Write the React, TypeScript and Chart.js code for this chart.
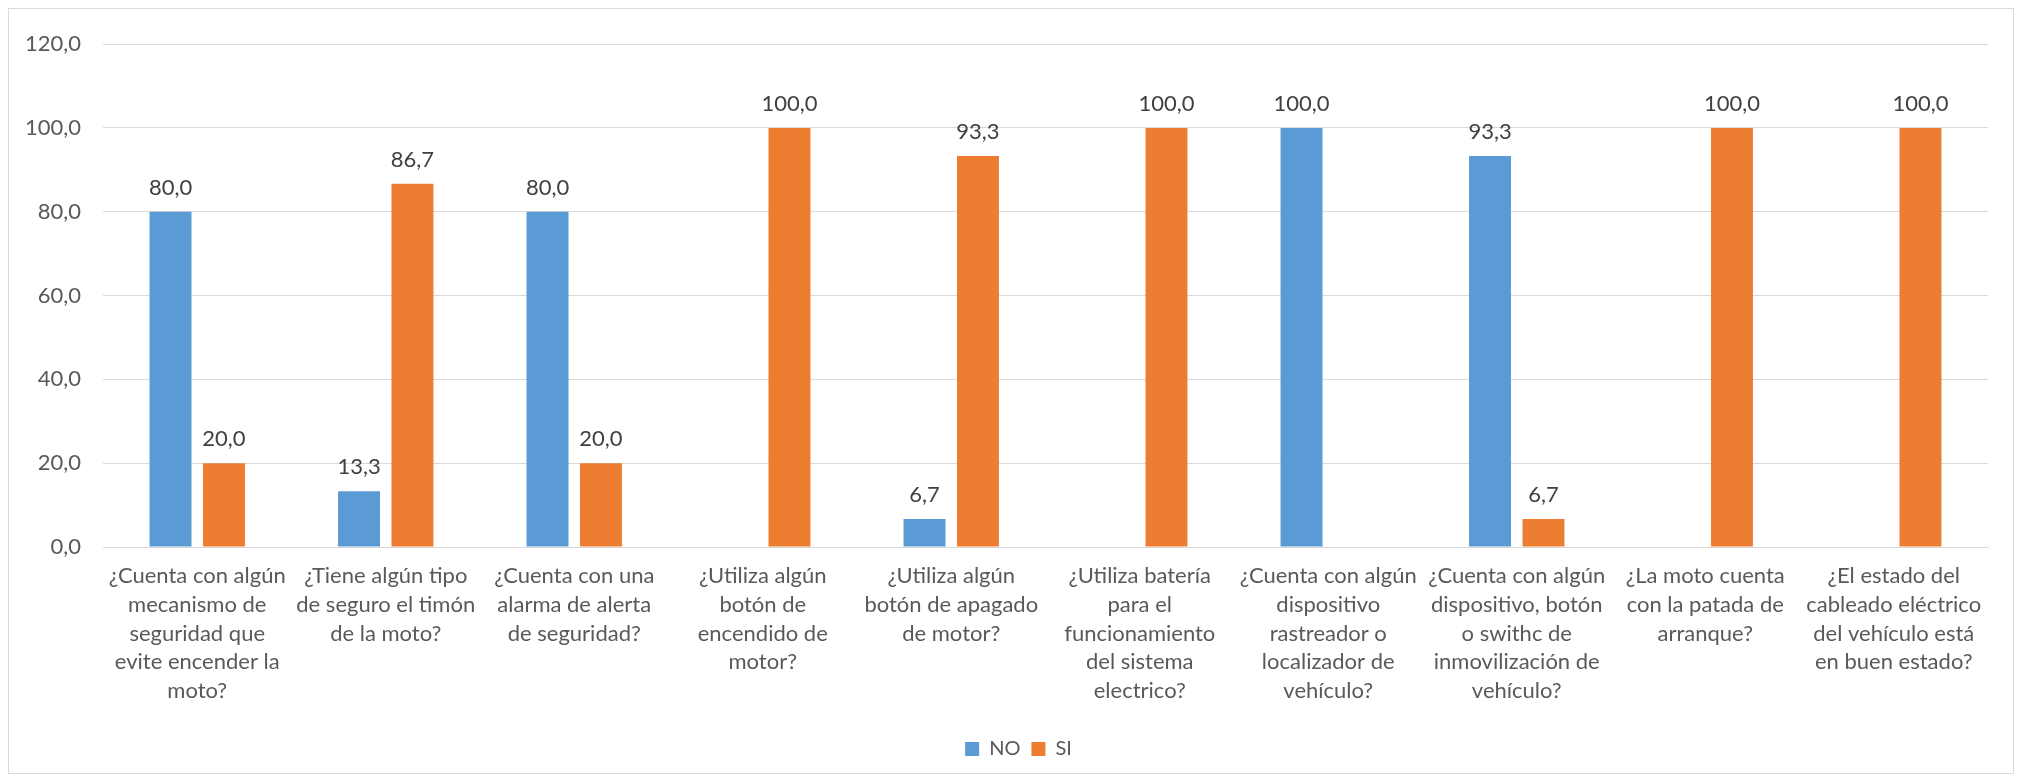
import React, { useEffect, useRef } from "react";
import { Chart, registerables } from "chart.js";

Chart.register(...registerables);

const categories: string[][] = [
  ["¿Cuenta con algún", "mecanismo de", "seguridad que", "evite encender la", "moto?"],
  ["¿Tiene algún tipo", "de seguro el timón", "de la moto?"],
  ["¿Cuenta con una", "alarma de alerta", "de seguridad?"],
  ["¿Utiliza algún", "botón de", "encendido de", "motor?"],
  ["¿Utiliza algún", "botón de apagado", "de motor?"],
  ["¿Utiliza batería", "para el", "funcionamiento", "del sistema", "electrico?"],
  ["¿Cuenta con algún", "dispositivo", "rastreador o", "localizador de", "vehículo?"],
  ["¿Cuenta con algún", "dispositivo, botón", "o swithc de", "inmovilización de", "vehículo?"],
  ["¿La moto cuenta", "con la patada de", "arranque?"],
  ["¿El estado del", "cableado eléctrico", "del vehículo está", "en buen estado?"],
];

const noValues: (number | null)[] = [80.0, 13.3, 80.0, null, 6.7, null, 100.0, 93.3, null, null];
const siValues: (number | null)[] = [20.0, 86.7, 20.0, 100.0, 93.3, 100.0, null, 6.7, 100.0, 100.0];

const yTicks = { min: 0, max: 120, step: 20 };

const FONT = "Lato, 'Liberation Sans', sans-serif";
const fmt = (v: number) => v.toFixed(1).replace(".", ",");

const dataLabels = {
  id: "dataLabels",
  afterDatasetsDraw(chart: any) {
    const ctx = chart.ctx;
    ctx.save();
    ctx.font = `22px ${FONT}`;
    ctx.fillStyle = "#404040";
    ctx.textAlign = "center";
    ctx.textBaseline = "alphabetic";
    chart.data.datasets.forEach((ds: any, i: number) => {
      const meta = chart.getDatasetMeta(i);
      meta.data.forEach((el: any, j: number) => {
        const v = ds.data[j];
        if (v === null || v === undefined) return;
        ctx.fillText(fmt(v), el.x, el.y - 17);
      });
    });
    ctx.restore();
  },
};

const legendShift = {
  id: "legendShift",
  afterLayout(chart: any) {
    const lg = chart.legend;
    if (lg) {
      lg.left += 20;
      lg.right += 20;
    }
  },
};

export default function App() {
  const ref = useRef<HTMLCanvasElement>(null);
  useEffect(() => {
    if (!ref.current) return;
    const chart = new Chart(ref.current, {
      type: "bar",
      data: {
        labels: categories as any,
        datasets: [
          { label: "NO", data: noValues, backgroundColor: "#5B9BD5" },
          { label: "SI", data: siValues, backgroundColor: "#ED7D31" },
        ],
      },
      options: {
        animation: false,
        responsive: true,
        maintainAspectRatio: false,
        layout: { padding: { top: 15, right: 25, left: 0, bottom: 4 } },
        datasets: { bar: { categoryPercentage: 0.567, barPercentage: 0.785 } } as any,
        plugins: {
          tooltip: { enabled: false },
          legend: {
            position: "bottom",
            labels: {
              boxWidth: 14,
              boxHeight: 14,
              padding: 11,
              color: "#595959",
              font: { family: FONT, size: 20 },
            },
          },
        },
        scales: {
          x: {
            grid: { display: false, drawTicks: false },
            border: { color: "#D9D9D9", width: 1 },
            ticks: {
              autoSkip: false,
              maxRotation: 0,
              minRotation: 0,
              padding: 15,
              color: "#595959",
              font: { family: FONT, size: 22, lineHeight: 1.3 },
            },
            afterFit: (s: any) => {
              s.height = 181;
            },
          },
          y: {
            min: yTicks.min,
            max: yTicks.max,
            grid: { color: "#D9D9D9", drawTicks: false, lineWidth: 1 },
            border: { display: false },
            ticks: {
              stepSize: yTicks.step,
              padding: 22,
              color: "#595959",
              font: { family: FONT, size: 22 },
              callback: (v: any) => fmt(Number(v)),
            },
            afterFit: (s: any) => {
              s.width = 94;
            },
          },
        },
      },
      plugins: [dataLabels, legendShift],
    });
    return () => chart.destroy();
  }, []);
  return (
    <div
      style={{
        width: 2006,
        height: 766,
        border: "1px solid #D9D9D9",
        boxSizing: "border-box",
        position: "relative",
        background: "#fff",
      }}
    >
      <canvas ref={ref} />
    </div>
  );
}
